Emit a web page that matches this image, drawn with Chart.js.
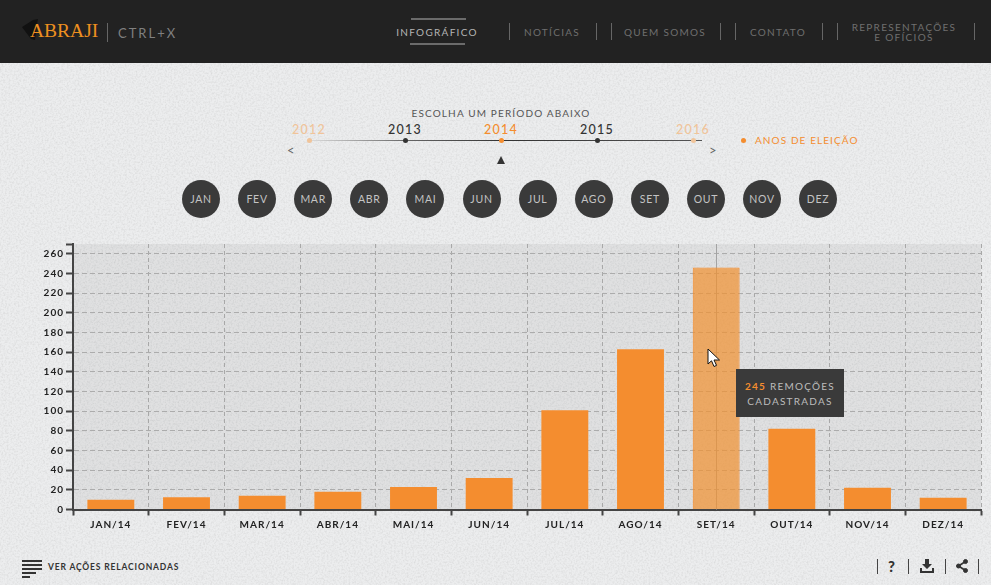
<!DOCTYPE html>
<html lang="pt">
<head>
<meta charset="utf-8">
<title>Abraji Ctrl+X</title>
<script src="https://cdn.jsdelivr.net/npm/chart.js@4"></script>
<style>
  html, body { margin: 0; padding: 0; }
  body {
    width: 991px; height: 585px; overflow: hidden; position: relative;
    font-family: Lato, "Open Sans", sans-serif;
    background-color: #ecedee;
    background-image: url("data:image/svg+xml,%3Csvg xmlns='http://www.w3.org/2000/svg' width='300' height='300'%3E%3Cfilter id='n'%3E%3CfeTurbulence type='fractalNoise' baseFrequency='.55' numOctaves='2' stitchTiles='stitch'/%3E%3CfeColorMatrix values='0 0 0 0 .5 0 0 0 0 .5 0 0 0 0 .5 0 0 0 .7 -.28'/%3E%3C/filter%3E%3Crect width='300' height='300' filter='url(%23n)'/%3E%3C/svg%3E");
  }
  .abs { position: absolute; white-space: nowrap; }
  .ctr { transform: translateX(-50%); text-align: center; }
  #header { position: absolute; left: 0; top: 0; width: 991px; height: 63px; background: #222; }
  .nav { color: #6f6f6f; font-size: 10px; letter-spacing: 1.3px; line-height: 10px; }
  .sep { position: absolute; width: 1px; height: 17px; top: 23px; background: #666; }
  .bar { position: absolute; height: 2px; background: #6b6b6b; }
  .month {
    position: absolute; top: 180px; width: 38px; height: 38px; margin-left: -19px;
    border-radius: 50%; background: #3a3a3a; color: #c4c4c4;
    font-size: 10.5px; letter-spacing: .7px; line-height: 38px; text-align: center;
  }
  .year { font-size: 12.5px; letter-spacing: 1.2px; top: 122px; color: #333; font-weight: 500; }
  .dot { position: absolute; width: 5px; height: 5px; margin-left: -2.5px; top: 138px; border-radius: 50%; background: #333; }
  #chartBox { position: absolute; left: 0; top: 234px; width: 991px; height: 310px; }
  #tip {
    position: absolute; left: 736px; top: 369px; width: 108px; height: 48px;
    background: #3a3a3a; color: #bdbdbd; font-size: 10px; letter-spacing: 1.25px;
    line-height: 14.5px; text-align: center; padding-top: 10px; box-sizing: border-box;
  }
  #tip b { color: #f48d2f; font-weight: 700; }
  .fsep { position: absolute; width: 1px; height: 15px; top: 559px; background: #444; }
</style>
</head>
<body>
<div id="header">
  <svg class="abs" style="left:22px;top:18px" width="24" height="24" viewBox="0 0 24 24">
    <path d="M0 9 L11 2 L16 1 L15 6 L13 22 L9 21 Z" fill="#111"/>
  </svg>
  <div class="abs" style="left:30px;top:20px;font:19.5px 'Liberation Serif',serif;color:#ee9020">ABRAJI</div>
  <div class="sep" style="left:107px;height:19px"></div>
  <div class="abs" style="left:118px;top:25px;font-size:13px;letter-spacing:2px;color:#808080">CTRL+X</div>
  <div class="bar" style="left:411px;top:18px;width:55px"></div>
  <div class="bar" style="left:410px;top:43px;width:55px"></div>
  <div class="abs nav ctr" style="left:437px;top:27px;color:#b5b5b5">INFOGRÁFICO</div>
  <div class="sep" style="left:509px"></div>
  <div class="abs nav ctr" style="left:552px;top:27px">NOTÍCIAS</div>
  <div class="sep" style="left:596px"></div>
  <div class="sep" style="left:611px"></div>
  <div class="abs nav ctr" style="left:665px;top:27px">QUEM SOMOS</div>
  <div class="sep" style="left:720px"></div>
  <div class="sep" style="left:735px"></div>
  <div class="abs nav ctr" style="left:778px;top:27px">CONTATO</div>
  <div class="sep" style="left:822px"></div>
  <div class="sep" style="left:837px"></div>
  <div class="abs nav ctr" style="left:904px;top:22px">REPRESENTAÇÕES<br>E OFÍCIOS</div>
  <div class="sep" style="left:974px"></div>
</div>

<div class="abs ctr" style="left:501px;top:107px;font-size:10px;letter-spacing:1.15px;color:#555">ESCOLHA UM PERÍODO ABAIXO</div>
<div class="abs" style="left:309px;top:140px;width:393px;height:1px;background:linear-gradient(90deg,#ddd,#666 25%,#333 50%,#555)"></div>
<div id="timeline"></div>
<div class="abs" style="left:287px;top:142px;font-size:13px;color:#666">&lt;</div>
<div class="abs" style="left:709px;top:142px;font-size:13px;color:#666">&gt;</div>
<div class="abs" style="left:497px;top:156px;width:0;height:0;border-left:4px solid transparent;border-right:4px solid transparent;border-bottom:8px solid #333"></div>
<div class="dot" style="left:743px;background:#f48d2f"></div>
<div class="abs" style="left:755px;top:134px;font-size:10px;letter-spacing:1.1px;color:#f48d2f">ANOS DE ELEIÇÃO</div>
<div id="months"></div>

<div id="chartBox"><canvas id="removalsChart"></canvas></div>

<div id="tip"><b>245</b> REMOÇÕES<br>CADASTRADAS</div>
<svg class="abs" style="left:707px;top:348px" width="15" height="20" viewBox="0 0 15 20">
  <path d="M1 1 L1 16 L4.5 12.8 L7 18.5 L9.5 17.4 L7 12 L12.5 12 Z" fill="#fff" stroke="#111" stroke-width="1"/>
</svg>

<svg class="abs" style="left:22px;top:560px" width="20" height="18" viewBox="0 0 20 18" fill="#333">
  <rect x="0" y="0" width="20" height="2"/><rect x="0" y="4" width="20" height="2"/>
  <rect x="0" y="8" width="20" height="2"/><rect x="0" y="12" width="14" height="2"/>
  <rect x="0" y="16" width="8" height="2"/>
</svg>
<div class="abs" style="left:48px;top:562px;font-size:8.5px;letter-spacing:.85px;color:#333;font-weight:700">VER AÇÕES RELACIONADAS</div>
<div class="fsep" style="left:877px"></div>
<div class="abs" style="left:888px;top:557px;font-size:15px;font-weight:900;color:#333">?</div>
<div class="fsep" style="left:908px"></div>
<svg class="abs" style="left:919px;top:559px" width="16" height="15" viewBox="0 0 16 15" fill="#333">
  <path d="M6 0 H10 V5 H13 L8 10 L3 5 H6 Z"/><path d="M1 9 H3 V12 H13 V9 H15 V14 H1 Z"/>
</svg>
<div class="fsep" style="left:945px"></div>
<svg class="abs" style="left:956px;top:559px" width="12" height="14" viewBox="0 0 12 14" fill="#333" stroke="#333">
  <circle cx="2.5" cy="7" r="2"/><circle cx="9.5" cy="2.5" r="2"/><circle cx="9.5" cy="11.5" r="2"/>
  <path d="M2.5 7 L9.5 2.5 M2.5 7 L9.5 11.5" stroke-width="1.6"/>
</svg>
<div class="fsep" style="left:978px"></div>

<script>
const categorias = ['JAN/14', 'FEV/14', 'MAR/14', 'ABR/14', 'MAI/14', 'JUN/14', 'JUL/14', 'AGO/14', 'SET/14', 'OUT/14', 'NOV/14', 'DEZ/14'];
const remocoes = [10, 12.5, 14, 18, 23, 32, 101, 163, 246, 82, 22, 12];
const yTicks = [0, 20, 40, 60, 80, 100, 120, 140, 160, 180, 200, 220, 240, 260, 270];
const yTicksSemTexto = [270];
const meses = ['JAN', 'FEV', 'MAR', 'ABR', 'MAI', 'JUN', 'JUL', 'AGO', 'SET', 'OUT', 'NOV', 'DEZ'];
const anos = ['2012', '2013', '2014', '2015', '2016'];
const anosEleicao = ['2012', '2014', '2016'];
const anoAtual = '2014';
const mesAtivo = 'SET/14';

// meses e anos acima do grafico
document.getElementById('months').innerHTML = meses
    .map((m, i) => `<div class="month" style="left:${201 + i * 56.1}px">${m}</div>`)
    .join('');

document.getElementById('timeline').innerHTML = anos.map((a, i) => {
    const x = 309 + i * 96;
    const eleicao = anosEleicao.includes(a);
    const desbotado = eleicao && a !== anoAtual;
    const cor = a === anoAtual ? '#f48d2f' : (desbotado ? '#f0c49a' : '#333');
    return `<div class="abs ctr year" style="left:${x}px;color:${cor}">${a}</div>`
        + `<div class="dot" style="left:${x}px;background:${cor}"></div>`;
}).join('');

const fundoGrafico = {
    id: 'fundoGrafico',
    beforeDraw(chart) {
        const { ctx, chartArea: a } = chart;
        ctx.letterSpacing = '1px';
        ctx.save();
        ctx.fillStyle = 'rgba(0,0,0,0.05)';
        ctx.fillRect(a.left, a.top, a.right - a.left, a.bottom - a.top);
        ctx.restore();
    },
    beforeDatasetsDraw(chart) {
        // linha vertical do mes com o mouse em cima
        const { ctx, chartArea: a, scales } = chart;
        const x = Math.round(scales.x.getPixelForValue(categorias.indexOf(mesAtivo))) + 0.5;
        ctx.save();
        ctx.strokeStyle = '#a3a3a3';
        ctx.lineWidth = 1;
        ctx.beginPath();
        ctx.moveTo(x, a.top);
        ctx.lineTo(x, a.bottom);
        ctx.stroke();
        ctx.restore();
    }
};

new Chart(document.getElementById('removalsChart'), {
    type: 'bar',
    data: {
        labels: categorias,
        datasets: [{
            data: remocoes,
            backgroundColor: ctx => categorias[ctx.dataIndex] === mesAtivo ? 'rgba(240,145,50,0.72)' : '#f48d2f',
            borderColor: '#f48d2f',
            borderWidth: ctx => categorias[ctx.dataIndex] === mesAtivo ? 1 : 0,
            barPercentage: 0.62,
            categoryPercentage: 1
        }]
    },
    options: {
        responsive: true,
        maintainAspectRatio: false,
        animation: false,
        events: [],
        layout: { padding: { top: 10, right: 10, left: 0, bottom: 0 } },
        plugins: { legend: { display: false }, tooltip: { enabled: false } },
        scales: {
            x: {
                grid: {
                    color: '#a8a8a8',
                    lineWidth: 1,
                    tickColor: '#444',
                    tickLength: 6,
                    tickWidth: 2,
                    tickBorderDash: [],
                    offset: true
                },
                border: { color: '#444', width: 2, dash: [4, 3] },
                ticks: {
                    color: '#222',
                    font: { family: 'Lato', size: 10, weight: '700' },
                    padding: 3,
                    maxRotation: 0,
                    autoSkip: false
                },
                afterFit(scale) { scale.height = 34.5; }
            },
            y: {
                min: 0,
                max: 270,
                afterBuildTicks(scale) { scale.ticks = yTicks.map(value => ({ value })); },
                grid: {
                    color: ctx => yTicksSemTexto.includes(ctx.tick && ctx.tick.value) ? 'transparent' : '#acacac',
                    lineWidth: 1,
                    tickColor: '#444',
                    tickLength: 7,
                    tickWidth: 2,
                    tickBorderDash: []
                },
                border: { color: '#444', width: 2, dash: [5, 3] },
                ticks: {
                    color: '#222',
                    font: { family: 'Lato', size: 10, weight: '700' },
                    padding: 2,
                    autoSkip: false,
                    callback: v => yTicksSemTexto.includes(v) ? '' : v
                },
                afterFit(scale) { scale.width = 73; }
            }
        }
    },
    plugins: [fundoGrafico]
});
</script>
</body>
</html>
